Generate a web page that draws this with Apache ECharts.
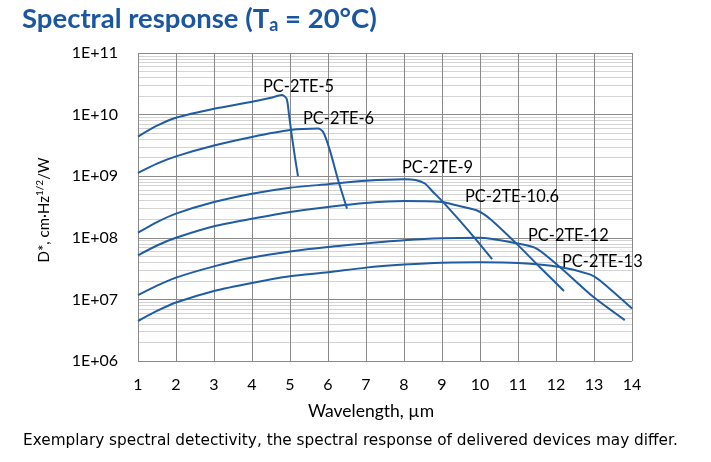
<!DOCTYPE html>
<html>
<head>
<meta charset="utf-8">
<script src="https://cdn.jsdelivr.net/npm/echarts@6/dist/echarts.min.js"></script>
<style>
html,body{margin:0;padding:0;background:#fff;}
#c{width:711px;height:462px;}
</style>
</head>
<body>
<div id="c"></div>
<script>
// ---- data ----
const seriesNames = ['PC-2TE-5','PC-2TE-6','PC-2TE-9','PC-2TE-10.6','PC-2TE-12','PC-2TE-13'];
const te5X  = [1, 1.5, 2, 3, 4, 4.5, 4.78, 4.91, 4.97, 5.04, 5.13, 5.21];
const te5D  = [4.4e9, 6.6e9, 8.9e9, 1.245e10, 1.62e10, 1.88e10, 2.08e10, 1.82e10, 1.04e10, 4.9e9, 2.04e9, 1.0e9];
const te6X  = [1, 1.5, 2, 3, 4, 5, 5.74, 5.87, 6.05, 6.27, 6.5];
const te6D  = [1.13e9, 1.6e9, 2.1e9, 3.14e9, 4.33e9, 5.6e9, 5.93e9, 5.25e9, 2.63e9, 8.5e8, 2.98e8];
const te9X  = [1, 1.5, 2, 3, 4, 5, 6, 7, 8, 8.3, 8.55, 8.77, 9.03, 9.73, 10.32];
const te9D  = [1.21e8, 1.8e8, 2.47e8, 3.8e8, 5.2e8, 6.5e8, 7.4e8, 8.4e8, 8.9e8, 8.7e8, 7.6e8, 5.5e8, 3.8e8, 1.24e8, 4.5e7];
const te106X = [1, 1.5, 2, 3, 4, 5, 6, 7, 8, 9, 9.38, 9.91, 10.26, 10.96, 11.57, 12.21];
const te106D = [5.2e7, 7.5e7, 1.0e8, 1.54e8, 2.04e8, 2.63e8, 3.16e8, 3.67e8, 3.95e8, 3.8e8, 3.37e8, 2.8e8, 2.04e8, 8.05e7, 3.36e7, 1.37e7];
const te12X = [1, 1.5, 2, 3, 4, 5, 6, 7, 8, 9, 10, 11, 11.49, 12.1, 12.98, 13.81];
const te12D = [1.17e7, 1.67e7, 2.26e7, 3.44e7, 4.79e7, 6.0e7, 7.1e7, 8.1e7, 9.1e7, 9.8e7, 1.0e8, 8.05e7, 6.7e7, 3.36e7, 1.1e7, 4.6e6];
const te13X = [1, 1.5, 2, 3, 4, 5, 6, 7, 8, 9, 10, 11, 12.1, 12.89, 13.15, 14.0];
const te13D = [4.46e6, 6.5e6, 8.9e6, 1.37e7, 1.85e7, 2.37e7, 2.75e7, 3.28e7, 3.67e7, 3.95e7, 4.0e7, 3.9e7, 3.36e7, 2.55e7, 2.04e7, 7.1e6];
const xTicks = [1,2,3,4,5,6,7,8,9,10,11,12,13,14];
const yDecades = [1e6, 1e7, 1e8, 1e9, 1e10, 1e11];

const allX = [te5X, te6X, te9X, te106X, te12X, te13X];
const allD = [te5D, te6D, te9D, te106D, te12D, te13D];

const LINE = '#1f5ca3';
const FONT = 'Lato';

const minorLines = [];
for (let i = 0; i < yDecades.length - 1; i++) {
  for (let k = 2; k <= 9; k++) minorLines.push({ yAxis: k * yDecades[i] });
}
const majorLines = xTicks.map(v => ({ xAxis: v })).concat(yDecades.map(v => ({ yAxis: v })));

const dataSeries = seriesNames.map((n, i) => ({
  name: n,
  type: 'line',
  data: allX[i].map((x, j) => [x, allD[i][j]]),
  showSymbol: false,
  smooth: 0.25,
  lineStyle: { color: LINE, width: 2 },
  itemStyle: { color: LINE },
  z: 5,
  silent: true,
  animation: false
}));

const labelPos = [[263, 87], [303, 119], [402, 168], [465, 197], [528, 236], [562, 262]];

const chart = echarts.init(document.getElementById('c'), null, { renderer: 'canvas' });
chart.setOption({
  backgroundColor: '#ffffff',
  animation: false,
  grid: { left: 138, top: 53, width: 494, height: 308, containLabel: false },
  xAxis: {
    type: 'value', min: 1, max: 14, interval: 1,
    axisLine: { show: false }, axisTick: { show: false }, splitLine: { show: false },
    axisLabel: { margin: 16, fontFamily: FONT, fontSize: 16, color: '#000' }
  },
  yAxis: {
    type: 'log', logBase: 10, min: 1e6, max: 1e11,
    axisLine: { show: false }, axisTick: { show: false }, splitLine: { show: false },
    axisLabel: {
      margin: 20, fontFamily: FONT, fontSize: 16, color: '#000',
      formatter: v => '1E+' + String(Math.round(Math.log10(v))).padStart(2, '0')
    }
  },
  series: [
    {
      name: 'minorGrid', type: 'line', data: [], z: 1, silent: true,
      markLine: { silent: true, symbol: ['none', 'none'], animation: false,
        label: { show: false }, lineStyle: { color: '#d3d3d3', width: 1, type: 'solid' },
        emphasis: { disabled: true }, data: minorLines }
    },
    {
      name: 'majorGrid', type: 'line', data: [], z: 2, silent: true,
      markLine: { silent: true, symbol: ['none', 'none'], animation: false,
        label: { show: false }, lineStyle: { color: '#8a8a8a', width: 1, type: 'solid' },
        emphasis: { disabled: true }, data: majorLines }
    }
  ].concat(dataSeries),
  graphic: [
    {
      type: 'text', left: 22, top: 5,
      style: {
        text: 'Spectral response (T{s|a} = 20°C)',
        font: 'bold 27.5px ' + FONT, fill: '#1b56a0',
        rich: { s: { font: 'bold 18px ' + FONT, fill: '#1b56a0', verticalAlign: 'bottom', padding: [12, 0, 0, 0] } }
      }
    },
    {
      type: 'text', x: 44, y: 210, rotation: Math.PI / 2,
      style: {
        text: 'D*, cm·Hz{sup|1/2}/W', font: '15px ' + FONT, fill: '#000',
        align: 'center', verticalAlign: 'middle',
        rich: { sup: { font: '10px ' + FONT, fill: '#000', padding: [0, 0, 8, 0] } }
      }
    },
    {
      type: 'text', x: 371, y: 411,
      style: { text: 'Wavelength, µm', font: '17.5px ' + FONT, fill: '#000', align: 'center', verticalAlign: 'middle' }
    },
    {
      type: 'text', x: 23, y: 441,
      style: { text: 'Exemplary spectral detectivity, the spectral response of delivered devices may differ.',
        font: '15.3px "DejaVu Sans"', fill: '#000', align: 'left', verticalAlign: 'middle' }
    }
  ].concat(seriesNames.map((n, i) => ({
    type: 'text', x: labelPos[i][0], y: labelPos[i][1], z: 10,
    style: { text: n, font: '16.4px ' + FONT, fill: '#000', align: 'left', verticalAlign: 'middle' }
  })))
});
</script>
</body>
</html>
